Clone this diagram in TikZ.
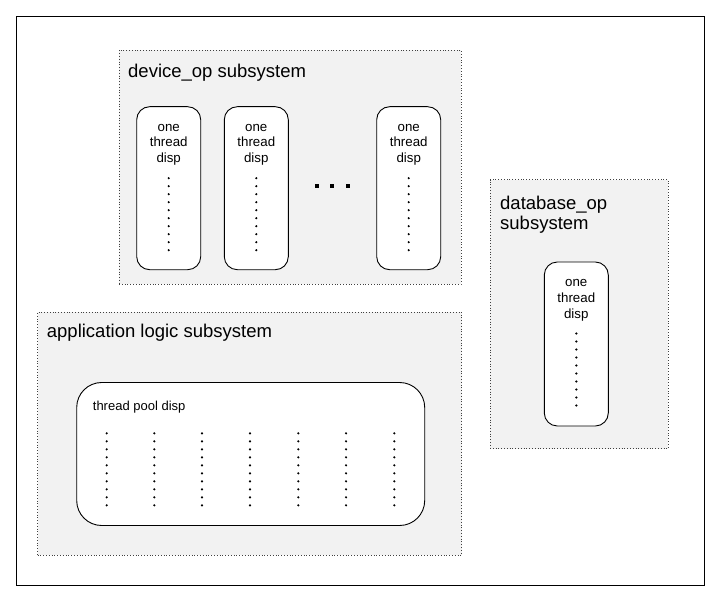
\documentclass[tikz,border=0pt]{standalone}
\usepackage{fontspec}
\setmainfont{Liberation Sans}
\usetikzlibrary{calc}
\begin{document}
\begin{tikzpicture}[x=1pt,y=-1pt,
  subsys/.style={draw=black!75, dotted, fill=black!5, line width=0.8pt, anchor=north west, inner sep=0pt, outer sep=0pt},
  thr/.style={draw=black, fill=white, rounded corners=13pt, line width=0.9pt, anchor=north west, inner sep=0pt, outer sep=0pt},
  ttl/.style={anchor=west, inner sep=0pt, font=\fontsize{18.5}{23}\selectfont},
  thrtxt/.style={anchor=north, inner sep=0pt, align=center, font=\fontsize{13.3}{15.7}\selectfont},
  dot/.style={fill=black}]
\useasboundingbox (0,0) rectangle (716,602);
\node[draw=black, line width=0.9pt, anchor=north west, minimum width=688pt, minimum height=569pt, inner sep=0pt] (frame) at (16,16) {};
% device_op subsystem
\node[subsys, minimum width=342pt, minimum height=234pt] (dev) at (119,50) {};
\node[ttl] (devt) at (128,73) {device\_op subsystem};
\foreach \n/\x in {d1/136.7, d2/224.3, d3/376.7}{
  \node[thr, minimum width=64pt, minimum height=163pt] (\n) at (\x,106.7) {};
  \node[thrtxt] (\n t) at ($(\n.north)+(0,17)$) {one\\thread\\disp};
  \foreach \i in {0,...,9} \fill[dot] ($(\n.north)+(0,71.5+8*\i)$) circle (1.2pt);
}
\foreach \x in {316.7,331.7,347.7} \fill[black] (\x-2,184) rectangle ++(4,4);
% database_op subsystem
\node[subsys, minimum width=178pt, minimum height=269pt] (db) at (490,179.5) {};
\node[ttl, align=left, anchor=north west, font=\fontsize{18.5}{20}\selectfont] (dbt) at (500,196) {database\_op\\subsystem};
\node[thr, minimum width=64pt, minimum height=164pt] (db1) at (544.3,262) {};
\node[thrtxt] (db1t) at ($(db1.north)+(0,17.5)$) {one\\thread\\disp};
\foreach \i in {0,...,9} \fill[dot] ($(db1.north)+(0,71.5+8*\i)$) circle (1.2pt);
% application logic subsystem
\node[subsys, minimum width=424pt, minimum height=243pt] (app) at (37.5,312) {};
\node[ttl] (appt) at (46.7,333) {application logic subsystem};
\node[thr, rounded corners=25pt, minimum width=348pt, minimum height=143pt] (pool) at (76.7,382.5) {};
\node[anchor=west, inner sep=0pt, font=\fontsize{13}{15.7}\selectfont] (poolt) at (92.7,407.5) {thread pool disp};
\foreach \x in {106.7,154.3,202,250,298.3,346,394.3}
  \foreach \i in {0,...,9} \fill[dot] (\x,433.3+8*\i) circle (1.2pt);
\end{tikzpicture}
\end{document}
